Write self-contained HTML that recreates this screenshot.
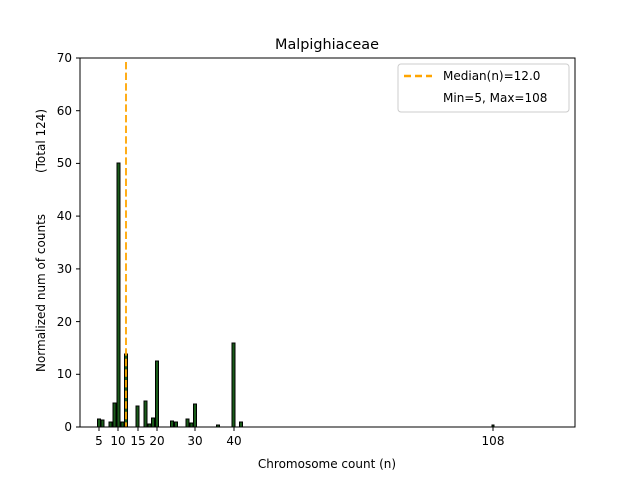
<!DOCTYPE html><html><head><style>body{margin:0;background:#fff}svg{font-family:"DejaVu Sans","Liberation Sans",sans-serif}</style></head><body>
<svg width="640" height="480" xmlns="http://www.w3.org/2000/svg">
<rect width="640" height="480" fill="#fff"/>
<g fill="#1a5c1a" stroke="#000" stroke-width="1">
<rect x="97.5" y="419" width="3" height="8"/>
<rect x="101" y="420" width="3" height="7"/>
<rect x="109" y="422" width="3" height="5"/>
<rect x="113" y="403" width="3" height="24"/>
<rect x="117" y="163" width="3" height="264"/>
<rect x="121" y="422" width="3" height="5"/>
<rect x="124.5" y="354" width="3" height="73"/>
<rect x="136" y="406" width="3" height="21"/>
<rect x="144" y="401" width="3" height="26"/>
<rect x="148" y="424" width="3" height="3"/>
<rect x="151.5" y="418" width="3" height="9"/>
<rect x="155.5" y="361" width="3" height="66"/>
<rect x="170.5" y="421" width="3" height="6"/>
<rect x="174.5" y="422" width="3" height="5"/>
<rect x="186" y="419" width="3" height="8"/>
<rect x="190" y="423" width="3" height="4"/>
<rect x="193.5" y="404" width="3" height="23"/>
<rect x="216.5" y="425" width="3" height="2"/>
<rect x="232" y="343" width="3" height="84"/>
<rect x="239.5" y="422" width="3" height="5"/>
<rect x="492" y="425" width="2" height="2"/>
</g>
<line x1="126" y1="62" x2="126" y2="427" stroke="#ffa500" stroke-width="2" stroke-dasharray="7.4,3.2" opacity="0.9"/>
<rect x="80" y="58" width="495" height="369" fill="none" stroke="#000" stroke-width="1"/>
<g stroke="#000">
<line x1="99" y1="427" x2="99" y2="431"/><line x1="118" y1="427" x2="118" y2="431"/><line x1="138" y1="427" x2="138" y2="431"/><line x1="157" y1="427" x2="157" y2="431"/><line x1="195" y1="427" x2="195" y2="431"/><line x1="234" y1="427" x2="234" y2="431"/><line x1="493" y1="427" x2="493" y2="431"/>
<line x1="76" y1="427" x2="80" y2="427"/><line x1="76" y1="374.3" x2="80" y2="374.3"/><line x1="76" y1="321.6" x2="80" y2="321.6"/><line x1="76" y1="268.9" x2="80" y2="268.9"/><line x1="76" y1="216.1" x2="80" y2="216.1"/><line x1="76" y1="163.4" x2="80" y2="163.4"/><line x1="76" y1="110.7" x2="80" y2="110.7"/><line x1="76" y1="58" x2="80" y2="58"/>
</g>
<g font-size="12" text-anchor="middle" fill="#000">
<text x="99" y="445">5</text><text x="118" y="445">10</text><text x="138" y="445">15</text><text x="157" y="445">20</text><text x="195" y="445">30</text><text x="234" y="445">40</text><text x="493" y="445">108</text>
<text x="327" y="468">Chromosome count (n)</text>
<text x="327" y="49" font-size="14.4">Malpighiaceae</text>
</g>
<g font-size="12" text-anchor="end" fill="#000">
<text x="72" y="431">0</text><text x="72" y="378">10</text><text x="72" y="326">20</text><text x="72" y="273">30</text><text x="72" y="220">40</text><text x="72" y="167">50</text><text x="72" y="115">60</text><text x="72" y="62">70</text>
</g>
<text transform="translate(45,293) rotate(-90)" font-size="12" text-anchor="middle">Normalized num of counts</text>
<text transform="translate(45,141) rotate(-90)" font-size="12" text-anchor="middle">(Total 124)</text>
<rect x="398" y="64" width="171" height="48" rx="3" fill="#fff" stroke="#ccc"/>
<line x1="404" y1="76" x2="432" y2="76" stroke="#ffa500" stroke-width="2.5" stroke-dasharray="7,4"/>
<text x="443" y="80" font-size="12">Median(n)=12.0</text>
<text x="443" y="102" font-size="12">Min=5, Max=108</text>
</svg>
</body></html>
